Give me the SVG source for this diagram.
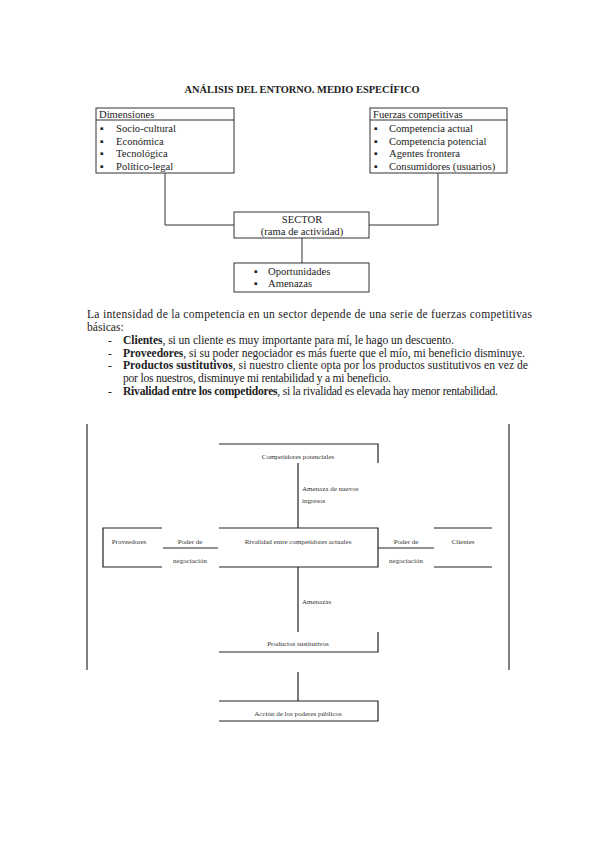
<svg xmlns="http://www.w3.org/2000/svg" width="599" height="848" viewBox="0 0 599 848">
<style>
text{font-family:"Liberation Serif","Times New Roman","DejaVu Serif",serif;fill:#222}
.t{font-size:10.6px}
.p{font-size:11.6px}
.s{font-size:7px;fill:#333}
.b{font-weight:bold}
.box{fill:none;stroke:#333;stroke-width:1}
.ln{fill:none;stroke:#222;stroke-width:1.2}
.bd{fill:none;stroke:#555;stroke-width:1.5}
</style>
<rect width="599" height="848" fill="#fff"/>
<text x="302" y="93" text-anchor="middle" style="font-size:10.4px" class="b">ANÁLISIS DEL ENTORNO. MEDIO ESPECÍFICO</text>

<g id="dimensiones">
<rect class="box" x="96" y="108" width="138" height="65"/>
<line class="box" x1="96" y1="120" x2="234" y2="120"/>
<text class="t" x="99" y="118">Dimensiones</text>
<text class="t" x="100" y="132">▪</text><text class="t" x="116" y="132">Socio-cultural</text>
<text class="t" x="100" y="145">▪</text><text class="t" x="116" y="145">Económica</text>
<text class="t" x="100" y="157">▪</text><text class="t" x="116" y="157">Tecnológica</text>
<text class="t" x="100" y="170">▪</text><text class="t" x="116" y="170">Político-legal</text>
</g>
<g id="fuerzas">
<rect class="box" x="370" y="108" width="137" height="65"/>
<line class="box" x1="370" y1="120" x2="507" y2="120"/>
<text class="t" x="373" y="118">Fuerzas competitivas</text>
<text class="t" x="374" y="132">▪</text><text class="t" x="389" y="132">Competencia actual</text>
<text class="t" x="374" y="145">▪</text><text class="t" x="389" y="145">Competencia potencial</text>
<text class="t" x="374" y="157">▪</text><text class="t" x="389" y="157">Agentes frontera</text>
<text class="t" x="374" y="170">▪</text><text class="t" x="389" y="170">Consumidores (usuarios)</text>
</g>
<g id="sector">
<rect class="box" x="234" y="212" width="135" height="26"/>
<text class="t" x="302" y="223" text-anchor="middle">SECTOR</text>
<text class="t" x="302" y="235" text-anchor="middle">(rama de actividad)</text>
</g>
<g id="oportunidades">
<rect class="box" x="234" y="263" width="135" height="29"/>
<text class="t" x="254" y="275">▪</text><text class="t" x="268" y="275">Oportunidades</text>
<text class="t" x="254" y="287">▪</text><text class="t" x="268" y="287">Amenazas</text>
</g>
<g id="top-connectors">
<polyline class="box" points="165,173 165,225 234,225"/>
<polyline class="box" points="438,173 438,225 369,225"/>
<line class="box" x1="302" y1="238" x2="302" y2="263"/>
</g>

<g id="paragraph" class="p">
<text x="87" y="318" textLength="445" lengthAdjust="spacing">La intensidad de la competencia en un sector depende de una serie de fuerzas competitivas</text>
<text x="87" y="331">básicas:</text>
<text x="108" y="344">-</text>
<text x="123" y="344" textLength="331" lengthAdjust="spacing"><tspan class="b">Clientes</tspan>, si un cliente es muy importante para mí, le hago un descuento.</text>
<text x="108" y="357">-</text>
<text x="123" y="357" textLength="402" lengthAdjust="spacing"><tspan class="b">Proveedores</tspan>, si su poder negociador es más fuerte que el mío, mi beneficio disminuye.</text>
<text x="108" y="369">-</text>
<text x="123" y="369" textLength="405" lengthAdjust="spacing"><tspan class="b">Productos sustitutivos</tspan>, si nuestro cliente opta por los productos sustitutivos en vez de</text>
<text x="123" y="382" textLength="268" lengthAdjust="spacing">por los nuestros, disminuye mi rentabilidad y a mi beneficio.</text>
<text x="108" y="395">-</text>
<text x="123" y="395" textLength="375" lengthAdjust="spacing"><tspan class="b">Rivalidad entre los competidores</tspan>, si la rivalidad es elevada hay menor rentabilidad.</text>
</g>

<g id="frame">
<line class="bd" x1="87" y1="424" x2="87" y2="670"/>
<line class="bd" x1="509" y1="424" x2="509" y2="670"/>
</g>

<g id="competidores-potenciales">
<polyline class="ln" points="219,444 378,444 378,463"/>
<text class="s" x="298" y="459" text-anchor="middle">Competidores potenciales</text>
</g>
<g id="rivalidad">
<polyline class="ln" points="219,528 378,528 378,567 219,567"/>
<text class="s" x="298" y="544" text-anchor="middle">Rivalidad entre competidores actuales</text>
</g>
<g id="proveedores">
<polyline class="ln" points="162,528 103,528 103,567 162,567"/>
<text class="s" x="129" y="544" text-anchor="middle">Proveedores</text>
</g>
<g id="clientes">
<line class="ln" x1="434" y1="528" x2="492" y2="528"/>
<line class="ln" x1="434" y1="567" x2="492" y2="567"/>
<text class="s" x="463" y="544" text-anchor="middle">Clientes</text>
</g>
<g id="productos-sustitutivos">
<polyline class="ln" points="378,632 378,652 219,652"/>
<text class="s" x="298" y="646" text-anchor="middle">Productos sustitutivos</text>
</g>
<g id="accion">
<polyline class="ln" points="219,701 378,701 378,721 219,721"/>
<text class="s" x="298" y="716" text-anchor="middle">Acción de los poderes públicos</text>
</g>

<g id="connectors">
<line class="ln" x1="298" y1="463" x2="298" y2="528"/>
<line class="ln" x1="163" y1="548" x2="218" y2="548"/>
<line class="ln" x1="378" y1="548" x2="434" y2="548"/>
<line class="ln" x1="298" y1="567" x2="298" y2="632"/>
<line class="ln" x1="298" y1="672" x2="298" y2="701"/>
</g>
<g id="connector-labels">
<text class="s" x="302" y="491">Amenaza de nuevos</text>
<text class="s" x="302" y="503">ingresos</text>
<text class="s" x="190" y="544" text-anchor="middle">Poder de</text>
<text class="s" x="190" y="563" text-anchor="middle">negociación</text>
<text class="s" x="406" y="544" text-anchor="middle">Poder de</text>
<text class="s" x="406" y="563" text-anchor="middle">negociación</text>
<text class="s" x="302" y="604">Amenazas</text>
</g>
</svg>
